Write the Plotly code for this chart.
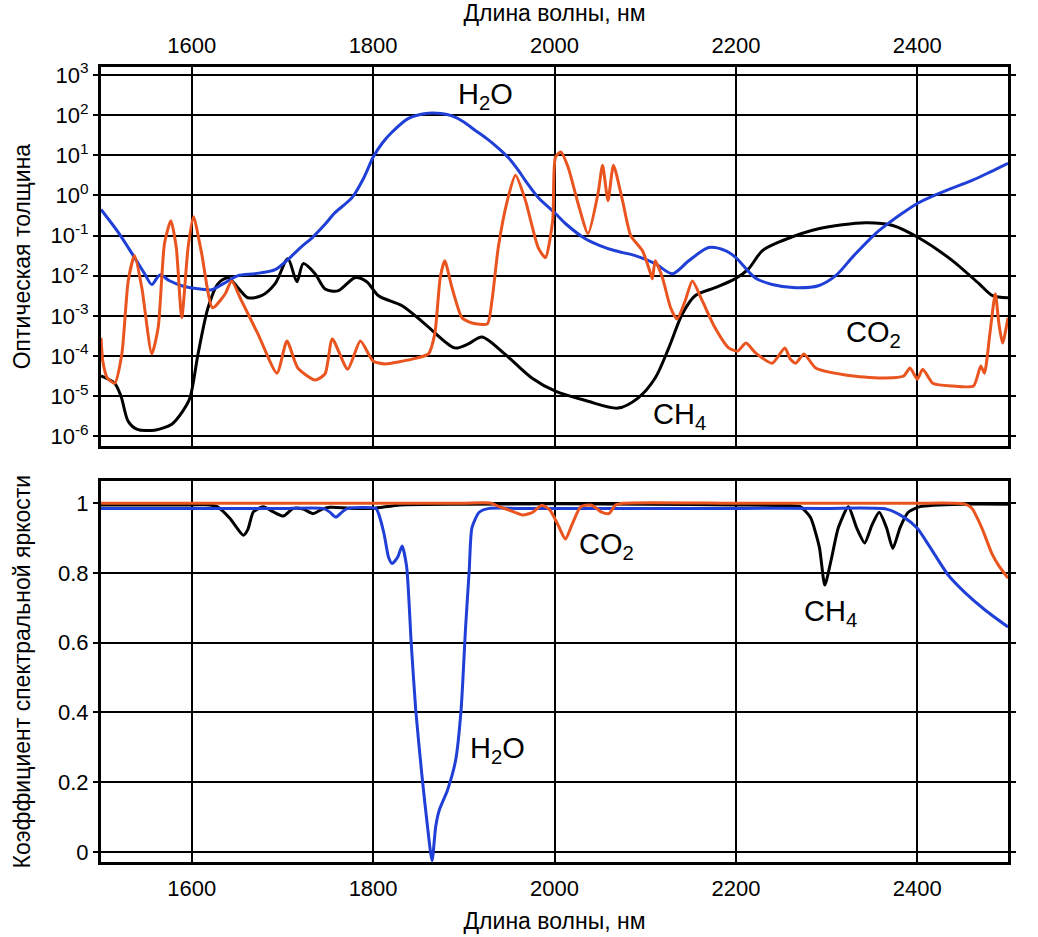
"""
Оптическая толщина и коэффициент спектральной яркости для H2O, CO2, CH4
"""

import numpy as np
import plotly.graph_objects as go

# ---------- верхняя панель: оптическая толщина (log10 значения) ----------
h2o_top_wl = [1500, 1520, 1537, 1548, 1556, 1565, 1575, 1589, 1605, 1622, 1635, 1651,
              1670, 1692, 1706, 1720, 1733, 1747, 1758, 1777, 1790, 1800, 1810, 1821,
              1839, 1861, 1875, 1887, 1900, 1912, 1925, 1938, 1950, 1960, 1970, 1982,
              2001, 2012, 2034, 2050, 2067, 2089, 2111, 2130, 2148, 2170, 2189, 2200,
              2221, 2240, 2266, 2291, 2310, 2330, 2354, 2369, 2385, 2400, 2424, 2461,
              2480, 2500]
h2o_top_log = [-0.35, -0.95, -1.55, -1.95, -2.22, -1.98, -2.12, -2.25, -2.32, -2.35, -2.2, -2.0,
               -1.95, -1.85, -1.6, -1.3, -1.05, -0.72, -0.43, -0.05, 0.45, 0.95, 1.3, 1.58,
               1.92, 2.05, 2.04, 1.98, 1.83, 1.63, 1.42, 1.18, 0.92, 0.63, 0.3, -0.05,
               -0.45, -0.7, -1.08, -1.25, -1.38, -1.5, -1.7, -1.95, -1.63, -1.3, -1.38, -1.55,
               -2.05, -2.22, -2.3, -2.25, -2.0, -1.5, -0.95, -0.68, -0.42, -0.2, 0.05, 0.38,
               0.58, 0.8]

ch4_top_wl = [1500, 1515, 1522, 1530, 1540, 1559, 1578, 1590, 1598, 1607, 1618, 1629,
              1640, 1651, 1662, 1677, 1692, 1706, 1716, 1723, 1736, 1747, 1761, 1780,
              1793, 1806, 1832, 1857, 1890, 1905, 1920, 1945, 1975, 2001, 2037, 2070,
              2092, 2111, 2126, 2141, 2155, 2177, 2199, 2214, 2229, 2251, 2291, 2343,
              2373, 2401, 2439, 2468, 2483, 2500]
ch4_top_log = [-4.5, -4.68, -5.0, -5.63, -5.83, -5.85, -5.7, -5.38, -5.05, -3.95, -2.8, -2.2,
               -2.05, -2.3, -2.55, -2.5, -2.2, -1.58, -2.15, -1.7, -1.95, -2.33, -2.38, -2.05,
               -2.15, -2.5, -2.75, -3.2, -3.8, -3.7, -3.53, -3.95, -4.55, -4.88, -5.13, -5.3,
               -5.05, -4.55, -3.8, -2.95, -2.5, -2.3, -2.08, -1.83, -1.38, -1.13, -0.83, -0.68,
               -0.75, -1.05, -1.63, -2.2, -2.5, -2.55]

co2_top_wl = [1500, 1502, 1507, 1515, 1523, 1530, 1537, 1545, 1556, 1563, 1570, 1577,
              1583, 1589, 1596, 1602, 1611, 1623, 1637, 1644, 1655, 1673, 1694, 1705,
              1717, 1736, 1747, 1755, 1772, 1786, 1800, 1813, 1843, 1861, 1868, 1874,
              1879, 1887, 1898, 1909, 1926, 1931, 1938, 1948, 1957, 1968, 1982, 1990,
              1998, 2001, 2007, 2015, 2026, 2037, 2048, 2053, 2059, 2065, 2075, 2084,
              2097, 2106, 2108, 2111, 2119, 2128, 2135, 2144, 2152, 2163, 2177, 2192,
              2202, 2211, 2222, 2240, 2254, 2260, 2266, 2275, 2288, 2329, 2365, 2385,
              2392, 2400, 2406, 2417, 2439, 2462, 2470, 2474, 2480, 2486, 2490, 2494, 2500]
co2_top_log = [-3.55, -4.13, -4.55, -4.68, -3.95, -2.13, -1.5, -2.3, -3.95, -3.3, -1.2, -0.63,
               -1.3, -3.05, -1.3, -0.53, -1.45, -2.8, -2.45, -2.13, -2.63, -3.45, -4.43, -3.63,
               -4.3, -4.6, -4.45, -3.58, -4.33, -3.63, -4.13, -4.2, -4.08, -3.95, -3.45, -2.05,
               -1.63, -2.3, -3.05, -3.18, -3.2, -2.63, -1.3, -0.13, 0.5, -0.13, -1.3, -1.55,
               -0.63, 0.95, 1.08, 0.7, -0.2, -0.95, 0.05, 0.75, -0.13, 0.75, -0.13, -1.0,
               -1.38, -1.95, -2.08, -1.63, -2.05, -2.8, -3.08, -2.63, -2.13, -2.63, -3.3, -3.8,
               -3.88, -3.68, -3.93, -4.18, -3.8, -4.08, -4.18, -3.95, -4.3, -4.5, -4.55, -4.5,
               -4.3, -4.58, -4.33, -4.68, -4.75, -4.75, -4.25, -4.43, -3.45, -2.45, -3.2, -3.68, -3.05]

# ---------- нижняя панель: коэффициент спектральной яркости ----------
ch4_bot_wl = [1500, 1600, 1620, 1628, 1642, 1657, 1662, 1668, 1679, 1690, 1701, 1712,
              1723, 1734, 1744, 1752, 1780, 1800, 1830, 1900, 2000, 2100, 2200, 2260,
              2271, 2282, 2292, 2298, 2305, 2313, 2324, 2333, 2342, 2350, 2358, 2366,
              2373, 2381, 2390, 2403, 2450, 2500]
ch4_bot_val = [0.995, 0.995, 0.995, 0.99, 0.957, 0.908, 0.925, 0.975, 0.99, 0.975, 0.963, 0.985,
               0.983, 0.97, 0.983, 0.988, 0.985, 0.985, 0.995, 0.997, 0.998, 0.997, 0.995, 0.993,
               0.99, 0.96, 0.874, 0.765, 0.837, 0.93, 0.99, 0.93, 0.886, 0.937, 0.974, 0.93,
               0.87, 0.93, 0.974, 0.99, 0.997, 0.997]

h2o_bot_wl = [1500, 1600, 1700, 1745, 1752, 1759, 1766, 1772, 1803, 1806, 1812, 1817,
              1821, 1827, 1832, 1837, 1842, 1847, 1854, 1860, 1865, 1869, 1873, 1882,
              1891, 1897, 1902, 1906, 1909, 1917, 1928, 1960, 2100, 2200, 2300, 2366,
              2385, 2400, 2414, 2434, 2452, 2475, 2500]
h2o_bot_val = [0.985, 0.985, 0.985, 0.985, 0.975, 0.96, 0.975, 0.985, 0.985, 0.97, 0.913, 0.845,
               0.827, 0.845, 0.877, 0.817, 0.6, 0.407, 0.215, 0.072, -0.025, 0.072, 0.12, 0.177,
               0.263, 0.407, 0.645, 0.808, 0.93, 0.974, 0.985, 0.985, 0.985, 0.985, 0.985, 0.983,
               0.96, 0.928, 0.874, 0.794, 0.745, 0.693, 0.645]

co2_bot_wl = [1500, 1600, 1700, 1800, 1900, 1930, 1939, 1950, 1965, 1976, 1986, 1995,
              2004, 2012, 2020, 2029, 2041, 2052, 2060, 2067, 2075, 2200, 2300, 2400,
              2440, 2452, 2460, 2471, 2482, 2490, 2500]
co2_bot_val = [1.0, 1.0, 1.0, 1.0, 1.0, 1.0, 0.99, 0.98, 0.966, 0.974, 0.994, 0.98,
               0.937, 0.897, 0.943, 0.99, 0.994, 0.974, 0.97, 0.994, 1.0, 1.0, 1.0, 1.0,
               1.0, 0.998, 0.986, 0.93, 0.857, 0.82, 0.785]

# подписи осей
x_ticks = [1600, 1800, 2000, 2200, 2400]
log_exps = [-6, -5, -4, -3, -2, -1, 0, 1, 2, 3]
lin_ticks = [0, 0.2, 0.4, 0.6, 0.8, 1]
lin_labels = ['0', '0.2', '0.4', '0.6', '0.8', '1']

BLUE = '#1f3fd6'
ORANGE = '#e9541f'
BLACK = '#000000'
FONT = 'Liberation Sans, Arial, sans-serif'

fig = go.Figure()

def add_line(wl, vals, color, xa, ya, smoothing=0.8):
    fig.add_trace(go.Scatter(
        x=wl, y=vals, xaxis=xa, yaxis=ya, mode='lines', showlegend=False,
        line=dict(color=color, width=3, shape='spline', smoothing=smoothing)
    ))

# верхняя панель
add_line(ch4_top_wl, np.power(10.0, ch4_top_log), BLACK, 'x', 'y')
add_line(h2o_top_wl, np.power(10.0, h2o_top_log), BLUE, 'x', 'y')
add_line(co2_top_wl, np.power(10.0, co2_top_log), ORANGE, 'x', 'y', 0.6)

# нижняя панель
add_line(ch4_bot_wl, ch4_bot_val, BLACK, 'x2', 'y2', 0.6)
add_line(h2o_bot_wl, h2o_bot_val, BLUE, 'x2', 'y2', 0.6)
add_line(co2_bot_wl, co2_bot_val, ORANGE, 'x2', 'y2', 0.6)

axis_common = dict(
    showgrid=True, gridcolor='black', gridwidth=1.5,
    showline=True, linecolor='black', linewidth=3,
    zeroline=False, automargin=False,
    tickfont=dict(size=22, color='black'),
)

fig.update_layout(
    width=1038, height=937,
    margin=dict(l=101, r=30, t=67, b=75),
    paper_bgcolor='white', plot_bgcolor='white',
    font=dict(family=FONT, color='black'),
    xaxis=dict(
        **axis_common, domain=[0, 1], anchor='y', side='top',
        range=[1500, 2500], tickvals=x_ticks, mirror=True,
        ticks='outside', ticklen=2, tickcolor='rgba(0,0,0,0)',
        title=dict(text='Длина волны, нм', font=dict(size=23), standoff=6),
    ),
    yaxis=dict(
        **axis_common, domain=[0.523, 1], anchor='x', type='log',
        range=[-6.25, 3.2], tickvals=[10.0 ** e for e in log_exps],
        ticktext=['10<sup>%d</sup>' % e for e in log_exps],
        ticks='outside', ticklen=5, tickwidth=2, tickcolor='black', mirror='ticks',
        title=dict(text='Оптическая толщина', font=dict(size=23), standoff=14),
    ),
    xaxis2=dict(
        **axis_common, domain=[0, 1], anchor='y2', side='bottom',
        range=[1500, 2500], tickvals=x_ticks, mirror=True,
        ticks='outside', ticklen=5, tickcolor='rgba(0,0,0,0)',
        title=dict(text='Длина волны, нм', font=dict(size=23), standoff=13),
    ),
    yaxis2=dict(
        **axis_common, domain=[0, 0.479], anchor='x2',
        range=[-0.029, 1.063], tickvals=lin_ticks, ticktext=lin_labels,
        ticks='outside', ticklen=5, tickwidth=2, tickcolor='black', mirror='ticks',
        title=dict(text='Коэффициент спектральной яркости', font=dict(size=23), standoff=21),
    ),
)

# подписи газов
labels = [
    ('H<sub>2</sub>O', 'x', 'y', 1924, 2.47),
    ('CO<sub>2</sub>', 'x', 'y', 2352, -3.45),
    ('CH<sub>4</sub>', 'x', 'y', 2138, -5.5),
    ('CO<sub>2</sub>', 'x2', 'y2', 2057, 0.878),
    ('CH<sub>4</sub>', 'x2', 'y2', 2304, 0.685),
    ('H<sub>2</sub>O', 'x2', 'y2', 1937, 0.293),
]
for text, xr, yr, xv, yv in labels:
    fig.add_annotation(text=text, xref=xr, yref=yr, x=xv, y=yv, showarrow=False,
                       font=dict(size=29, color='black', family=FONT))

# убираем стандартный отступ body, чтобы фигура начиналась в углу окна
fig.write_html("out.html", config={'displayModeBar': False},
               post_script="document.body.style.margin = '0';")
